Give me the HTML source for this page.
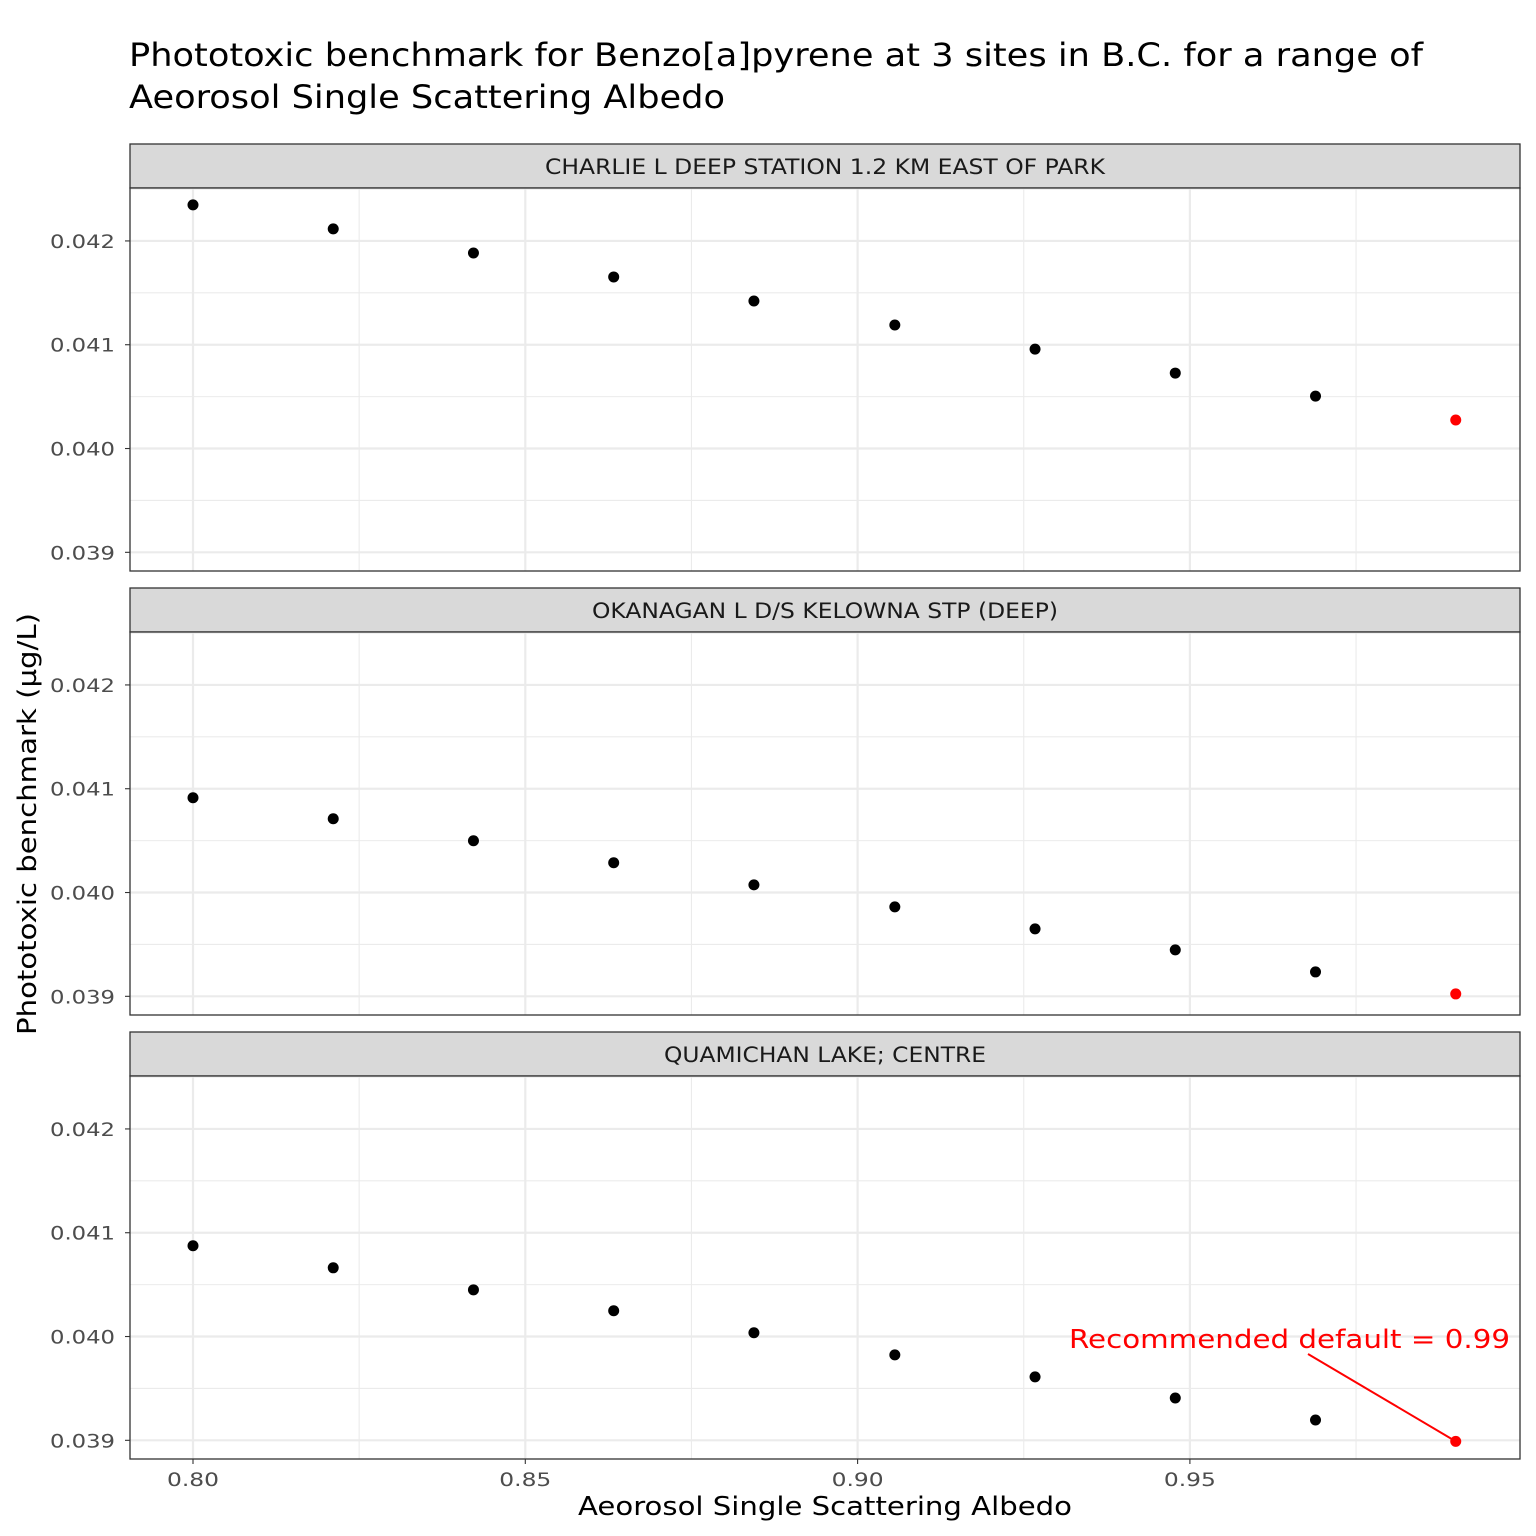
<!DOCTYPE html>
<html><head><meta charset="utf-8"><style>
html,body{margin:0;padding:0;background:#fff;}
svg{display:block;font-family:"DejaVu Sans","Liberation Sans",sans-serif;}
</style></head><body>
<svg id="chart" width="1536" height="1536" viewBox="0 0 1536 1536">
<text x="129" y="66" font-size="32" textLength="1294" lengthAdjust="spacingAndGlyphs" fill="#000">Phototoxic benchmark for Benzo[a]pyrene at 3 sites in B.C. for a range of</text>
<text x="129" y="108" font-size="32" textLength="596" lengthAdjust="spacingAndGlyphs" fill="#000">Aeorosol Single Scattering Albedo</text>
<text x="578" y="1515" font-size="26" textLength="494" lengthAdjust="spacingAndGlyphs" fill="#000">Aeorosol Single Scattering Albedo</text>
<text transform="translate(36,1035) rotate(-90)" font-size="26" textLength="422" lengthAdjust="spacingAndGlyphs" fill="#000">Phototoxic benchmark (µg/L)</text>
<g id="panels"></g>
</svg>
<script>
const sites = ["CHARLIE L DEEP STATION 1.2 KM EAST OF PARK","OKANAGAN L D/S KELOWNA STP (DEEP)","QUAMICHAN LAKE; CENTRE"];
const albedo = [0.80,0.8211,0.8422,0.8633,0.8844,0.9056,0.9267,0.9478,0.9689,0.99];
const site1 = [0.042347,0.042116,0.041884,0.041653,0.041421,0.041190,0.040958,0.040727,0.040505,0.040275];
const site2 = [0.040913,0.040711,0.040499,0.040287,0.040074,0.039862,0.039650,0.039447,0.039235,0.039023];
const site3 = [0.040875,0.040662,0.040450,0.040248,0.040036,0.039823,0.039611,0.039408,0.039196,0.038990];
const xTicks = [0.80,0.85,0.90,0.95];
const xTickLabels = ["0.80","0.85","0.90","0.95"];
const yTicks = [0.039,0.040,0.041,0.042];
const yTickLabels = ["0.039","0.040","0.041","0.042"];
const series = [site1, site2, site3];

const NS="http://www.w3.org/2000/svg";
const g=document.getElementById('panels');
function mk(tag,attrs,parent){const e=document.createElementNS(NS,tag);for(const k in attrs)e.setAttribute(k,attrs[k]);(parent||g).appendChild(e);return e;}
const PL=130, PR=1520;
const xs = v => 193 + (v-0.80)*6646;
const panelTops=[188,632,1076];
const PH=383;
const yMin=0.03882, yMax=0.04251;
const stripWidths=[560,466,322];
sites.forEach((name,i)=>{
  const top=panelTops[i], bot=top+PH;
  const ys = v => bot - (v-yMin)/(yMax-yMin)*PH;
  const strip=mk('rect',{x:PL,y:top-44,width:PR-PL,height:44,fill:'#d9d9d9',stroke:'#333','stroke-width':1.3});
  
  
  const st=mk('text',{x:(PL+PR)/2,y:top-14,'font-size':21,'text-anchor':'middle',fill:'#1a1a1a',textLength:stripWidths[i],lengthAdjust:'spacingAndGlyphs'});
  st.textContent=name;
  
  
  const bg=mk('rect',{x:PL,y:top,width:PR-PL,height:PH,fill:'#fff'});
  
  
  for(let k=0;k<xTicks.length+1;k++){
    const v=0.775+k*0.05; const x=xs(v);
    if(x>PL&&x<PR){const l=mk('line',{x1:x,x2:x,y1:top,y2:bot,stroke:'#ebebeb','stroke-width':1.1});
    }
  }
  for(let k=0;k<yTicks.length;k++){
    const v=yTicks[k]+0.0005; const y=ys(v);
    if(y>top&&y<bot){const l=mk('line',{x1:PL,x2:PR,y1:y,y2:y,stroke:'#ebebeb','stroke-width':1.1});
    }
  }
  xTicks.forEach(v=>{const x=xs(v);const l=mk('line',{x1:x,x2:x,y1:top,y2:bot,stroke:'#ebebeb','stroke-width':2.2});
    });
  yTicks.forEach((v,k)=>{const y=ys(v);
    const l=mk('line',{x1:PL,x2:PR,y1:y,y2:y,stroke:'#ebebeb','stroke-width':2.2});
    
    const t=mk('line',{x1:PL-5,x2:PL,y1:y,y2:y,stroke:'#333','stroke-width':1.1});
    
    const tx=mk('text',{x:50,y:y+7,'font-size':19,fill:'#4d4d4d',textLength:65,lengthAdjust:'spacingAndGlyphs'});
    tx.textContent=yTickLabels[k];
    });
  series[i].forEach((v,k)=>{
    const c=mk('circle',{cx:xs(albedo[k]),cy:ys(v),r:5.5,fill:k===albedo.length-1?'#ff0000':'#000'});
    
    
  });
  const bd=mk('rect',{x:PL,y:top,width:PR-PL,height:PH,fill:'none',stroke:'#333','stroke-width':1.3});
  
  if(i===2){
    const lx=xs(albedo[9]), ly=ys(site3[9]);
    const ln=mk('line',{x1:1308,y1:1354,x2:lx,y2:ly,stroke:'#ff0000','stroke-width':2});
    
    const at=mk('text',{x:1069,y:1348,'font-size':26,fill:'#ff0000',textLength:441,lengthAdjust:'spacingAndGlyphs'});
    at.textContent='Recommended default = 0.99';
    
    xTicks.forEach((v,k)=>{const x=xs(v);
      const t=mk('line',{x1:x,x2:x,y1:bot,y2:bot+5,stroke:'#333','stroke-width':1.1});
      
      const tx=mk('text',{x:x-26,y:bot+27,'font-size':19,fill:'#4d4d4d',textLength:52,lengthAdjust:'spacingAndGlyphs'});
      tx.textContent=xTickLabels[k];
      });
  }
});
</script>
</body></html>
